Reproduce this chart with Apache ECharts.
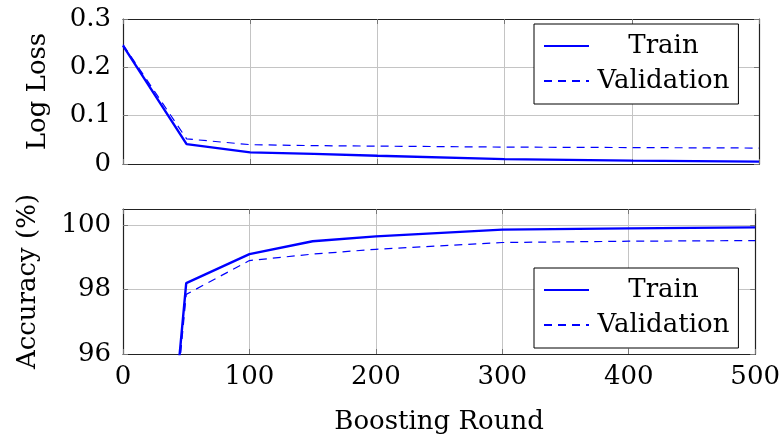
<!DOCTYPE html>
<html>
<head>
<meta charset="utf-8">
<script src="https://cdn.jsdelivr.net/npm/echarts@6/dist/echarts.min.js"></script>
<style>
html,body{margin:0;padding:0;background:#fff;}
#chart{width:783px;height:436px;}
</style>
</head>
<body>
<div id="chart"></div>
<script>
const rounds = [0, 50, 100, 150, 200, 300, 400, 500];
const trainLoss = [0.245, 0.041, 0.024, 0.021, 0.017, 0.010, 0.007, 0.005];
const valLoss = [0.247, 0.052, 0.040, 0.038, 0.037, 0.035, 0.034, 0.033];
const trainAcc = [77.0, 98.2, 99.1, 99.5, 99.65, 99.86, 99.9, 99.93];
const valAcc = [77.0, 97.85, 98.9, 99.1, 99.25, 99.46, 99.5, 99.52];
const seriesNames = ['Train', 'Validation'];
const xTitle = 'Boosting Round';
const yTitles = ['Log Loss', 'Accuracy (%)'];

const FONT = 'DejaVu Serif';
const FS = 26;
const pair = (xs, ys) => xs.map((x, i) => [x, ys[i]]);

const chart = echarts.init(document.getElementById('chart'), null, {renderer: 'canvas'});

const tickStyle = {show: true, inside: true, length: 5, lineStyle: {color: '#777', width: 1}};
const frameLine = {show: true, onZero: false, lineStyle: {color: '#222', width: 1.2}};
const gridLine = {show: true, lineStyle: {color: '#c4c4c4', width: 1}};
const lbl = {color: '#000', fontFamily: FONT, fontSize: FS};

function mkX(gridIndex, showLabels, pos) {
  return {
    type: 'value', gridIndex, min: 0, max: 500, interval: 100, position: pos,
    axisLine: frameLine, axisTick: tickStyle,
    axisLabel: Object.assign({show: showLabels, margin: 10}, lbl),
    splitLine: pos === 'bottom' ? gridLine : {show: false},
    name: showLabels ? xTitle : '', nameLocation: 'middle', nameGap: 55,
    nameTextStyle: lbl
  };
}
function mkY(gridIndex, min, max, interval, name, gap, pos, showMax) {
  return {
    type: 'value', gridIndex, min, max, interval, position: pos,
    axisLine: frameLine, axisTick: tickStyle,
    axisLabel: Object.assign({show: pos === 'left', margin: 12, showMaxLabel: showMax}, lbl),
    splitLine: pos === 'left' ? gridLine : {show: false},
    name: pos === 'left' ? name : '', nameLocation: 'middle', nameGap: gap, nameRotate: 90,
    nameTextStyle: lbl
  };
}

const legendBase = (top) => ({
  orient: 'vertical', left: 534, top: top,
  data: seriesNames,
  itemWidth: 45, itemHeight: 14, itemGap: 9,
  padding: [9, 9, 10, 9],
  borderColor: '#000', borderWidth: 1, backgroundColor: '#fff',
  itemStyle: {opacity: 0, borderWidth: 0},
  formatter: '{t|{name}}',
  textStyle: {rich: {t: {fontFamily: FONT, fontSize: FS, color: '#000', width: 139, align: 'center'}}},
  selectedMode: false
});

chart.setOption({
  animation: false,
  backgroundColor: '#fff',
  grid: [
    {left: 123, right: 24, top: 19, height: 145},
    {left: 123, right: 24, top: 209, height: 145}
  ],
  xAxis: [mkX(0, false, 'bottom'), mkX(0, false, 'top'), mkX(1, true, 'bottom'), mkX(1, false, 'top')],
  yAxis: [
    mkY(0, 0, 0.3, 0.1, yTitles[0], 72, 'left', true),
    mkY(0, 0, 0.3, 0.1, '', 0, 'right', true),
    mkY(1, 96, 100.5, 2, yTitles[1], 82, 'left', false),
    mkY(1, 96, 100.5, 2, '', 0, 'right', false)
  ],
  legend: [legendBase(24), legendBase(268)],
  series: [
    {name: seriesNames[0], type: 'line', xAxisIndex: 0, yAxisIndex: 0, data: pair(rounds, trainLoss), showSymbol: false, symbol: 'none', lineStyle: {color: '#0000ff', width: 2.4}, itemStyle: {color: '#0000ff'}, z: 3},
    {name: seriesNames[1], type: 'line', xAxisIndex: 0, yAxisIndex: 0, data: pair(rounds, valLoss), showSymbol: false, symbol: 'none', lineStyle: {color: '#0000ff', width: 1.2, type: [8, 6]}, itemStyle: {color: '#0000ff'}, z: 2},
    {name: seriesNames[0], type: 'line', xAxisIndex: 2, yAxisIndex: 2, data: pair(rounds, trainAcc), showSymbol: false, symbol: 'none', lineStyle: {color: '#0000ff', width: 2.4}, itemStyle: {color: '#0000ff'}, z: 3},
    {name: seriesNames[1], type: 'line', xAxisIndex: 2, yAxisIndex: 2, data: pair(rounds, valAcc), showSymbol: false, symbol: 'none', lineStyle: {color: '#0000ff', width: 1.2, type: [8, 6]}, itemStyle: {color: '#0000ff'}, z: 2}
  ]
});
</script>
</body>
</html>
